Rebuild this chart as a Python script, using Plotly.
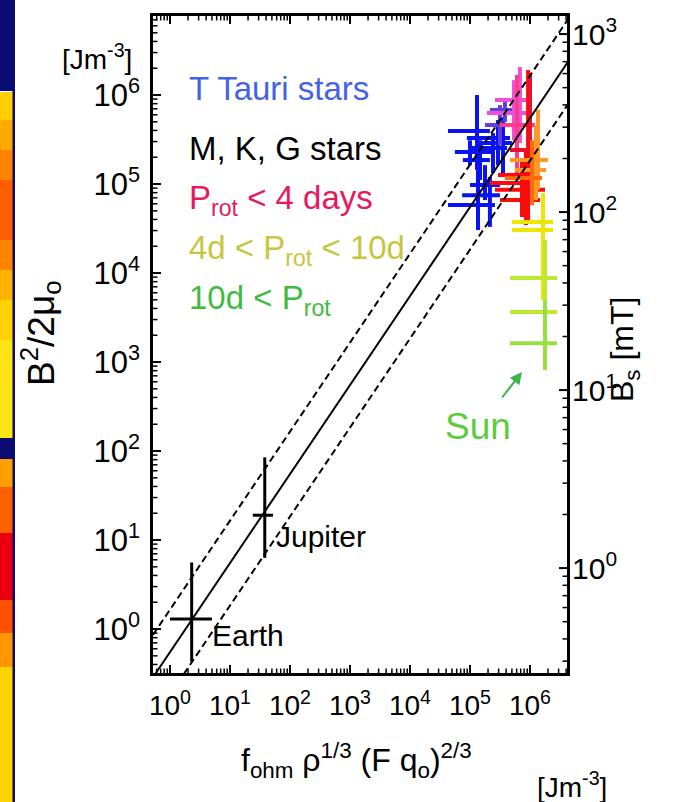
import math
import plotly.graph_objects as go

# ---------------- data ----------------
# x: f_ohm rho^(1/3) (F q_o)^(2/3)  [J m^-3]   y: B^2/2mu_o  [J m^-3]
planet_names = ["Earth", "Jupiter"]
planet_x = [2.3, 38]
planet_x_lo = [1.0, 24]
planet_x_hi = [5.0, 52]
planet_y = [1.3, 19]
planet_y_lo = [0.43, 6.3]
planet_y_hi = [5.6, 85]

star_group = ["ttauri", "ttauri", "ttauri", "ttauri", "ttauri", "ttauri", "ttauri",
              "ttauri", "ttauri",
              "violet", "violet", "magenta", "magenta", "pink", "red", "red", "red", "red",
              "crimson", "orange", "orange", "darkorange", "yellow", "yellow", "lime", "lime",
              "green"]
star_x = [1.31e5, 1.36e5, 2.15e5, 1.47e5, 2.42e5, 3.55e5, 2.93e5, 1.78e5, 1.0e5,
          3.16e5, 3.83e5, 6.8e5, 5.41e5, 6.07e5, 9.3e5, 7.36e5, 8.58e5, 8.58e5, 1.0e6,
          1.36e6, 1.26e6, 1.08e6, 1.65e6, 1.65e6, 1.78e6, 1.78e6, 1.78e6]
star_x_lo = [4.3e4, 4.3e4, 7.4e4, 7.6e4, 1.08e5, 8.9e4, 1.47e5, 1.0e5, 5.6e4,
             1.78e5, 2.15e5, 1.92e5, 2.61e5, 3.16e5, 2.93e5, 2.61e5, 2.15e5, 3.16e5, 4.64e5,
             4.64e5, 5.6e5, 3.83e5, 5.0e5, 5.0e5, 4.64e5, 4.64e5, 4.64e5]
star_x_hi = [2.15e5, 2.61e5, 3.16e5, 2.15e5, 4.14e5, 4.64e5, 5.0e5, 3.16e5, 2.61e5,
             5.0e5, 5.62e5, 1.0e6, 1.0e6, 1.21e6, 1.47e6, 1.78e6, 1.21e6, 1.47e6, 1.47e6,
             2.0e6, 1.85e6, 1.58e6, 2.42e6, 2.42e6, 2.82e6, 2.82e6, 2.82e6]
star_y = [3.95e5, 5.8e4, 7.5e4, 1.86e5, 2.54e5, 3.29e5, 2.89e5, 9.75e4, 2.29e5,
          4.6e5, 6.8e5, 6.3e5, 8.8e5, 4.6e5, 1.26e5, 8.6e4, 1.03e5, 6.6e4, 2.41e5,
          1.86e5, 1.44e5, 1.17e5, 3.74e4, 3.04e4, 8.8e3, 3.65e3, 1.63e3]
star_y_lo = [1.44e5, 3.04e4, 3.3e4, 1.11e5, 1.33e5, 1.2e5, 1.63e5, 6.6e4, 1.63e5,
             2.74e5, 4.98e5, 2.89e5, 3.1e5, 1.11e5, 3.95e4, 4.26e4, 5.1e4, 3.46e4, 6.6e4,
             8.6e4, 6.6e4, 5.8e4, 6.4e3, 4.97e3, 1.05e3, 857, 813]
star_y_hi = [1.0e6, 1.44e5, 1.2e5, 3.1e5, 3.74e5, 5.66e5, 5.24e5, 1.63e5, 3.1e5,
             7.7e5, 8.8e5, 2.06e6, 1.47e6, 1.68e6, 1.91e6, 1.86e5, 2.41e5, 1.44e5, 1.77e6,
             6.8e5, 4.6e5, 3.1e5, 7.9e4, 6.6e4, 2.35e4, 1.08e4, 4.97e3]

# scaling law: B^2/2mu_o = c * f_ohm rho^(1/3) (F q_o)^(2/3), scatter band factor
fit_coeff = 0.55
band_factor = 3.0
fit_x = [0.1, 1.0e7]

# right axis: B_s [mT] <-> energy density  (E = k * B_s^2)
bs_to_energy = 4.84

x_tickvals = [1, 10, 100, 1e3, 1e4, 1e5, 1e6]
x_ticktext = ["10<sup>0</sup>", "10<sup>1</sup>", "10<sup>2</sup>", "10<sup>3</sup>",
              "10<sup>4</sup>", "10<sup>5</sup>", "10<sup>6</sup>"]
y_tickvals = [1, 10, 100, 1e3, 1e4, 1e5, 1e6]
y_ticktext = x_ticktext
y2_tickvals = [1, 10, 100, 1000]
y2_ticktext = ["10<sup>0</sup>", "10<sup>1</sup>", "10<sup>2</sup>", "10<sup>3</sup>"]
minor_tickvals = [m * 10.0 ** e for e in range(-1, 7) for m in range(2, 10)]

legend_labels = ["T Tauri stars", "M, K, G stars", "P<sub>rot</sub> &lt; 4 days",
                 "4d &lt; P<sub>rot</sub> &lt; 10d", "10d &lt; P<sub>rot</sub>"]

# ---------------- style ----------------
W, H = 679, 802
ML, MR, MT, MB = 153, 112, 16, 129
PW, PH = W - ML - MR, H - MT - MB
FONT = "Liberation Sans, Arial, sans-serif"
MAJOR_LEN, MINOR_LEN = 8, 4.5

group_colors = {
    "ttauri": "#0a14f0", "violet": "#6040dc", "magenta": "#f050d8", "pink": "#ff3c8c",
    "red": "#ff0a0a", "crimson": "#e8102e", "orange": "#ff9a28", "darkorange": "#ff6a08",
    "yellow": "#ece600", "lime": "#bce830", "green": "#98e040",
}
legend_colors = ["#4462e6", "#000000", "#e8185e", "#c8c63e", "#40bb40"]
legend_y_px = [88, 148, 200, 250, 300]

x_range = [-0.283, 6.617]
y_lo_log, y_hi_log = -0.494, 6.888
k_log = math.log10(bs_to_energy)
y_range = [y_lo_log, y_hi_log]
y2_range = [(y_lo_log - k_log) / 2, (y_hi_log - k_log) / 2]


def px2paper(px, py):
    return (px - ML) / PW, (H - MB - py) / PH


def in_range(v, rng):
    return rng[0] <= math.log10(v) <= rng[1]


fig = go.Figure()

# stars
for i in range(len(star_x)):
    c = group_colors[star_group[i]]
    fig.add_trace(go.Scatter(
        x=[star_x[i]], y=[star_y[i]], mode="markers",
        marker=dict(size=1, color=c),
        error_x=dict(type="data", symmetric=False,
                     array=[star_x_hi[i] - star_x[i]], arrayminus=[star_x[i] - star_x_lo[i]],
                     color=c, thickness=4, width=0),
        error_y=dict(type="data", symmetric=False,
                     array=[star_y_hi[i] - star_y[i]], arrayminus=[star_y[i] - star_y_lo[i]],
                     color=c, thickness=4, width=0),
        showlegend=False, hoverinfo="skip"))

# fit lines
fit_y = [fit_coeff * v for v in fit_x]
fit_y_hi = [fit_coeff * band_factor * v for v in fit_x]
fit_y_lo = [fit_coeff / band_factor * v for v in fit_x]
fig.add_trace(go.Scatter(x=fit_x, y=fit_y, mode="lines",
                         line=dict(color="black", width=2), showlegend=False))
for yy in (fit_y_hi, fit_y_lo):
    fig.add_trace(go.Scatter(x=fit_x, y=yy, mode="lines",
                             line=dict(color="black", width=2, dash="7px,4px"),
                             showlegend=False))

# planets
fig.add_trace(go.Scatter(
    x=planet_x, y=planet_y, mode="markers", marker=dict(size=1, color="black"),
    error_x=dict(type="data", symmetric=False,
                 array=[h - v for h, v in zip(planet_x_hi, planet_x)],
                 arrayminus=[v - l for v, l in zip(planet_x, planet_x_lo)],
                 color="black", thickness=3, width=0),
    error_y=dict(type="data", symmetric=False,
                 array=[h - v for h, v in zip(planet_y_hi, planet_y)],
                 arrayminus=[v - l for v, l in zip(planet_y, planet_y_lo)],
                 color="black", thickness=3, width=0),
    showlegend=False, hoverinfo="skip"))

# ---- inside tick marks, drawn on pixel-unit helper axes (x3: 0..PW, y5: 0..PH) ----
def x_tick_segments(vals, length):
    xs, ys = [], []
    for v in vals:
        if in_range(v, x_range):
            xs += [v, v, None, v, v, None]
            ys += [0, length, None, PH, PH - length, None]
    return xs, ys


def y_tick_segments(vals, rng, length, right):
    xs, ys = [], []
    for v in vals:
        if in_range(v, rng):
            if right:
                xs += [PW, PW - length, None]
            else:
                xs += [0, length, None]
            ys += [v, v, None]
    return xs, ys


tick_specs = [
    ("x", "y5", x_tick_segments(x_tickvals, MAJOR_LEN), 2),
    ("x", "y5", x_tick_segments(minor_tickvals, MINOR_LEN), 1.5),
    ("x3", "y", y_tick_segments(y_tickvals, y_range, MAJOR_LEN, False), 2),
    ("x3", "y", y_tick_segments(minor_tickvals, y_range, MINOR_LEN, False), 1.5),
    ("x3", "y2", y_tick_segments(y2_tickvals, y2_range, MAJOR_LEN, True), 2),
    ("x3", "y2", y_tick_segments(minor_tickvals, y2_range, MINOR_LEN, True), 1.5),
]
for xa, ya, (xs, ys), lw in tick_specs:
    fig.add_trace(go.Scatter(x=xs, y=ys, xaxis=xa, yaxis=ya, mode="lines",
                             line=dict(color="black", width=lw), showlegend=False,
                             hoverinfo="skip", cliponaxis=False))

axis_common = dict(ticks="", showgrid=False, zeroline=False, tickmode="array")

fig.update_layout(
    width=W, height=H, margin=dict(l=ML, r=MR, t=MT, b=MB, pad=0),
    paper_bgcolor="white", plot_bgcolor="white",
    font=dict(family=FONT, color="black"),
    xaxis=dict(type="log", range=x_range, tickvals=x_tickvals, ticktext=x_ticktext,
               showline=True, linewidth=2.5, linecolor="black", mirror=True,
               ticklabelstandoff=6, tickfont=dict(size=28, family=FONT), **axis_common),
    yaxis=dict(type="log", range=y_range, tickvals=y_tickvals, ticktext=y_ticktext,
               showline=True, linewidth=2.5, linecolor="black", mirror=True,
               ticklabelstandoff=4, tickfont=dict(size=31, family=FONT), **axis_common),
    yaxis2=dict(type="log", overlaying="y", side="right", anchor="x", range=y2_range,
                tickvals=y2_tickvals, ticktext=y2_ticktext, showline=False,
                ticklabelstandoff=4, tickfont=dict(size=30, family=FONT), **axis_common),
    xaxis3=dict(overlaying="x", anchor="y", range=[0, PW], visible=False),
    yaxis5=dict(overlaying="y", anchor="x", range=[0, PH], visible=False),
)

# left decoration strip (neighbouring slide panels)
deco = [
    (0, 91, "#0b0b74"),
    (92, 120, "#ffd000"), (120, 150, "#ffaa00"), (150, 180, "#ff8200"),
    (180, 240, "#ff5e00"), (240, 270, "#ff8400"), (270, 300, "#ffb200"),
    (300, 340, "#ffd200"), (340, 438, "#ffe414"),
    (438, 459, "#0b0b74"),
    (459, 487, "#ffa000"), (487, 533, "#ff6000"), (533, 600, "#e8000e"),
    (600, 633, "#ff5000"), (633, 667, "#ff9800"), (667, 802, "#ffd400"),
]
shapes = []
for y0, y1, col in deco:
    x0p, y0p = px2paper(0, y0)
    x1p, y1p = px2paper(13, y1)
    shapes.append(dict(type="rect", xref="paper", yref="paper", x0=x0p, x1=x1p,
                       y0=y1p, y1=y0p, fillcolor=col, line=dict(width=0), layer="below"))
x0p, y0p = px2paper(12.5, 0)
x1p, y1p = px2paper(15, 802)
shapes.append(dict(type="rect", xref="paper", yref="paper", x0=x0p, x1=x1p, y0=y1p, y1=y0p,
                   fillcolor="#0b0b74", line=dict(width=0), layer="below"))
fig.update_layout(shapes=shapes)

ann = []


def add_text(text, px, py, size, color="black", xanchor="center", angle=0):
    xp, yp = px2paper(px, py)
    ann.append(dict(text=text, x=xp, y=yp, xref="paper", yref="paper", showarrow=False,
                    xanchor=xanchor, yanchor="middle", textangle=angle,
                    font=dict(size=size, color=color, family=FONT)))


add_text("[Jm<sup>-3</sup>]", 97, 57, 28)
add_text("[Jm<sup>-3</sup>]", 572, 785, 28)
add_text("B<sup>2</sup>/2μ<sub>o</sub>", 40, 333, 37, angle=-90)
add_text("B<sub>s</sub> [mT]", 624, 350, 32, angle=-90)
add_text("f<sub>ohm</sub> ρ<sup>1/3</sup> (F q<sub>o</sub>)<sup>2/3</sup>", 356, 760, 32)
for lab, col, ly in zip(legend_labels, legend_colors, legend_y_px):
    add_text(lab, 187, ly, 33, color=col, xanchor="left")
add_text(planet_names[0], 210, 635, 30, xanchor="left")
add_text(planet_names[1], 274, 536, 30, xanchor="left")
add_text("Sun", 478, 426, 37, color="#5ccc3c")

# Sun arrow (head position in paper coords, tail offset in pixels)
hx, hy = px2paper(522, 372)
ann.append(dict(x=hx, y=hy, ax=-21, ay=27, xref="paper", yref="paper",
                axref="pixel", ayref="pixel", text="", showarrow=True,
                arrowhead=2, arrowsize=1.2, arrowwidth=2, arrowcolor="#3cb44b"))
fig.update_layout(annotations=ann)

fig.write_html("out.html", config={"displayModeBar": False},
               post_script="document.body.style.margin='0px';")
